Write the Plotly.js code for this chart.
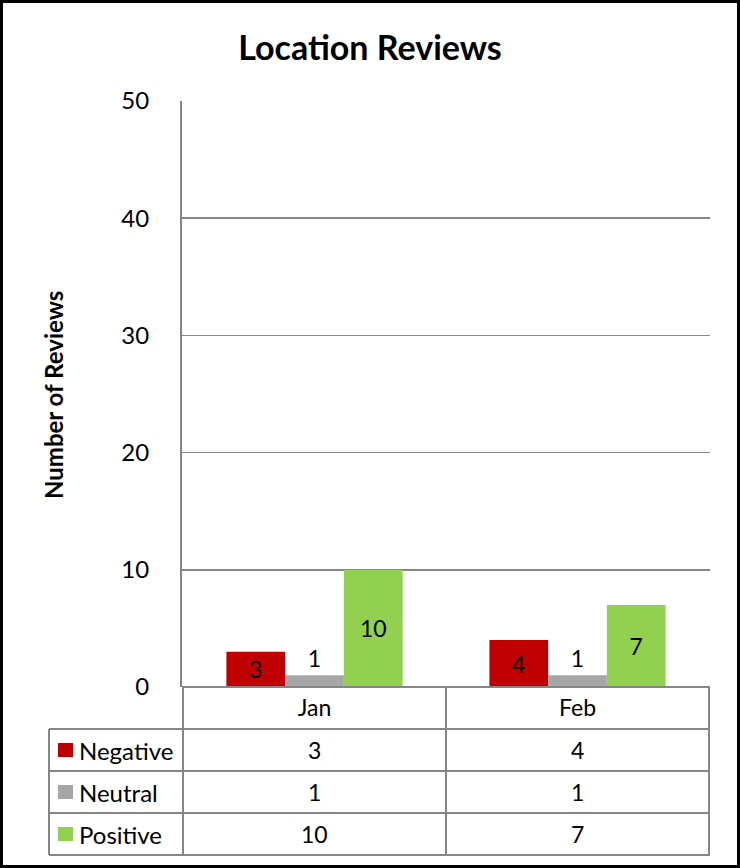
<!DOCTYPE html>
<html>
<head>
<meta charset="utf-8">
<script src="https://cdn.plot.ly/plotly-3.0.1.min.js"></script>
<style>
html,body{margin:0;padding:0;background:#fff;}
#chart{width:740px;height:868px;}
</style>
</head>
<body>
<div id="chart"></div>
<script>
// ---- data ----
var months = ["Jan", "Feb"];
var seriesNames = ["Negative", "Neutral", "Positive"];
var negative = [3, 4];
var neutral = [1, 1];
var positive = [10, 7];
var yTicks = [0, 10, 20, 30, 40, 50];

var seriesValues = [negative, neutral, positive];
var seriesColors = ["#C00000", "#A6A6A6", "#92D050"];
var textPos = ["inside", "outside", "inside"];

var FONT = "Lato, 'Open Sans', sans-serif";
var FS = 23;
var W = 740, H = 868;
var L = 182, R = 710, T = 101, B = 687;
var PW = R - L, PH = B - T;
function px(x) { return (x - L) / PW; }
function py(y) { return (B - y) / PH; }

var traces = seriesNames.map(function (name, i) {
  return {
    type: "bar",
    name: name,
    x: months,
    y: seriesValues[i],
    marker: { color: seriesColors[i], line: { width: 0 } },
    text: seriesValues[i].map(String),
    textposition: textPos[i],
    insidetextanchor: "middle",
    textfont: { family: FONT, size: FS, color: "#000" },
    insidetextfont: { family: FONT, size: FS, color: "#000" },
    outsidetextfont: { family: FONT, size: FS, color: "#000" },
    constraintext: "none",
    cliponaxis: false,
    hoverinfo: "x+y+name"
  };
});

var gridCol = "#868686";
var shapes = [];
var annotations = [];
function hline(y, x0, x1) {
  shapes.push({ type: "line", xref: "paper", yref: "paper", x0: px(x0), x1: px(x1), y0: py(y), y1: py(y),
    line: { color: gridCol, width: 2 } });
}
function vlineData(xd, y0, y1) {
  shapes.push({ type: "line", xref: "x", yref: "paper", x0: xd, x1: xd, y0: py(y0), y1: py(y1),
    line: { color: gridCol, width: 2 } });
}
// data table grid
var rowTops = [729, 771, 813, 855];
hline(687, L, R);
rowTops.forEach(function (y) { hline(y, 49, R); });
vlineData(-0.5, 687, 855);
vlineData(0.5, 687, 855);
vlineData(1.5, 687, 855);
shapes.push({ type: "line", xref: "paper", yref: "paper", x0: px(49), x1: px(49), y0: py(729), y1: py(855),
  line: { color: gridCol, width: 2 } });

// legend keys + values
seriesNames.forEach(function (name, i) {
  var yc = (rowTops[i] + rowTops[i + 1]) / 2;
  shapes.push({ type: "rect", xref: "paper", yref: "paper", x0: px(58), x1: px(73), y0: py(yc - 7), y1: py(yc + 7),
    fillcolor: seriesColors[i], line: { width: 0 } });
  annotations.push({ xref: "paper", yref: "paper", x: px(77), y: py(yc), xanchor: "left", yanchor: "middle",
    text: name, showarrow: false, font: { family: FONT, size: FS + 1, color: "#000" } });
  months.forEach(function (m, j) {
    annotations.push({ xref: "x", yref: "paper", x: m, y: py(yc), xanchor: "center", yanchor: "middle",
      text: String(seriesValues[i][j]), showarrow: false, font: { family: FONT, size: FS, color: "#000" } });
  });
});

// outer frame
shapes.push({ type: "rect", xref: "paper", yref: "paper", x0: px(1.5), x1: px(W - 1.5), y0: py(H - 1.5), y1: py(1.5),
  line: { color: "#000", width: 3 }, fillcolor: "rgba(0,0,0,0)", layer: "above" });

// y axis title
annotations.push({ xref: "paper", yref: "paper", x: px(53), y: py(395), xanchor: "center", yanchor: "middle",
  text: "<b>Number of Reviews</b>", textangle: -90, showarrow: false, font: { family: FONT, size: 24, color: "#000" } });

var layout = {
  width: W, height: H,
  margin: { l: L, r: W - R, t: T, b: H - B, pad: 0 },
  paper_bgcolor: "#fff", plot_bgcolor: "#fff",
  showlegend: false,
  barmode: "group",
  bargap: 0.33,
  bargroupgap: 0,
  title: { text: "<b>Location Reviews</b>", xref: "container", yref: "container", x: 0.5, y: 1 - 48 / H,
    xanchor: "center", yanchor: "middle", font: { family: FONT, size: 34, color: "#000" } },
  xaxis: {
    type: "category",
    tickfont: { family: FONT, size: FS, color: "#000" },
    showgrid: false, zeroline: false, showline: false, ticks: "",
    ticklabelstandoff: 5,
    fixedrange: true
  },
  yaxis: {
    range: [0, 50], tickvals: yTicks, ticktext: yTicks.map(String),
    showgrid: true, gridcolor: gridCol, gridwidth: 1.6,
    zeroline: false, showline: true, linecolor: gridCol, linewidth: 2,
    ticks: "", ticklabelstandoff: 26,
    tickfont: { family: FONT, size: 24, color: "#000" },
    fixedrange: true
  },
  shapes: shapes,
  annotations: annotations
};

Plotly.newPlot("chart", traces, layout, { displayModeBar: false, staticPlot: true });
</script>
</body>
</html>
